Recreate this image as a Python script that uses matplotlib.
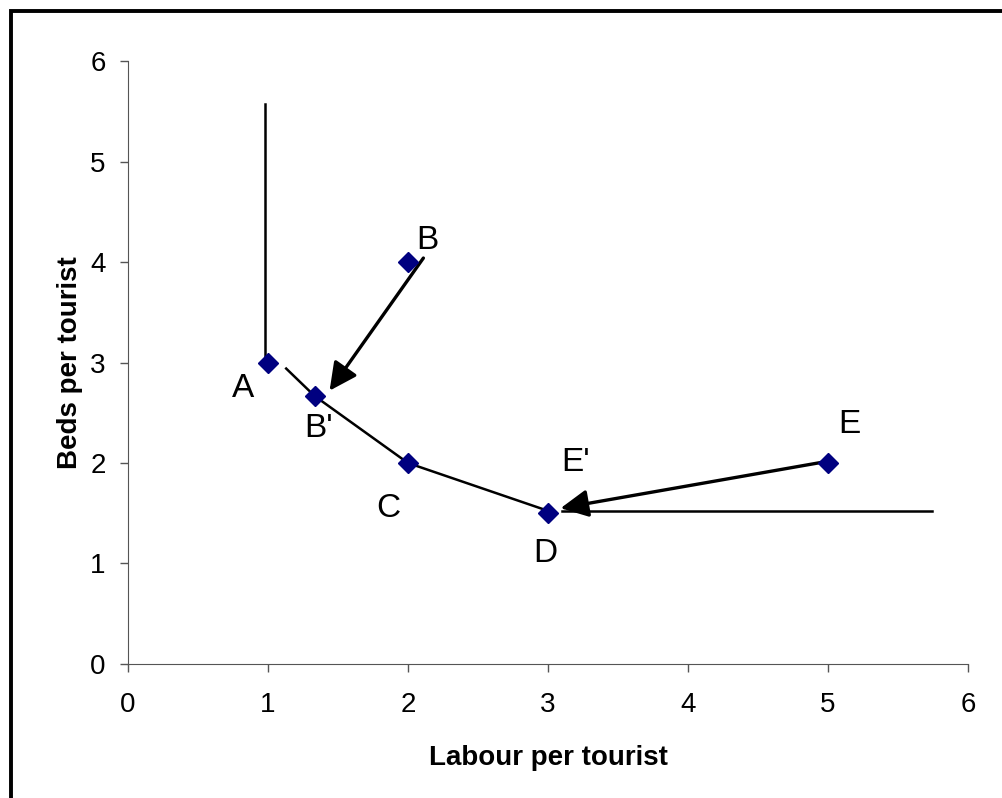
"""Isoquant sketch: beds vs labour per tourist, with shifts B->B' and E->E'."""
import matplotlib
matplotlib.use("Agg")
import matplotlib.pyplot as plt
from matplotlib.patches import Rectangle

plt.rcParams["font.family"] = ["Liberation Sans", "DejaVu Sans"]

# observed points
pt_x = [1, 2, 1.333, 2, 3, 5]
pt_y = [3, 4, 2.667, 2, 1.5, 2]

# point labels and where they sit
lab_text = ["A", "B", "B'", "C", "D", "E'", "E"]
lab_x = [0.82, 2.14, 1.36, 1.86, 2.98, 3.2, 5.15]
lab_y = [2.74, 4.21, 2.34, 1.55, 1.1, 2.0, 2.38]

# isoquant pieces
vert_x = [0.98, 0.98]
vert_y = [5.57, 3.04]
curve_x = [1.13, 1.333, 2, 3.05]
curve_y = [2.94, 2.667, 2, 1.5]
horiz_x = [3.1, 5.74]
horiz_y = [1.52, 1.52]

# arrows: (start, end)
arrows = [((2.11, 4.04), (1.44, 2.72)),
          ((5.01, 2.02), (3.09, 1.55))]


def main():
    fig = plt.figure(figsize=(10.03, 7.98), dpi=100)
    ax = fig.add_axes([0.1276, 0.168, 0.8375, 0.7554])

    ax.plot(vert_x, vert_y, color="black", lw=1.8)
    ax.plot(curve_x, curve_y, color="black", lw=1.8)
    ax.plot(horiz_x, horiz_y, color="black", lw=1.8)
    for (x0, y0), (x1, y1) in arrows:
        ax.annotate("", xy=(x1, y1), xytext=(x0, y0),
                    arrowprops=dict(arrowstyle="-|>", color="black", lw=2.4,
                                    mutation_scale=42, shrinkA=0, shrinkB=0))
    ax.plot(pt_x, pt_y, ls="none", marker="D", ms=10, color="#000080", zorder=3)
    for t, x, y in zip(lab_text, lab_x, lab_y):
        ax.text(x, y, t, fontsize=24, ha="center", va="center")

    ax.set_xlim(0, 6); ax.set_ylim(0, 6)
    ax.set_xticks(range(7)); ax.set_yticks(range(7))
    ax.tick_params(labelsize=20, direction="out", length=6, width=1, colors="#555555",
                   labelcolor="black")
    ax.tick_params(axis="x", pad=14)
    ax.tick_params(axis="y", pad=10)
    for s in ("top", "right"):
        ax.spines[s].set_visible(False)
    for s in ("left", "bottom"):
        ax.spines[s].set_color("#555555")
    ax.set_xlabel("Labour per tourist", fontsize=20, fontweight="bold", labelpad=20)
    ax.set_ylabel("Beds per tourist", fontsize=20, fontweight="bold", labelpad=5)

    fig.patches.append(Rectangle((11 / 1003, -0.1), 1.2, 1.1 - 11 / 798,
                                 transform=fig.transFigure, fill=False,
                                 ec="black", lw=2.8))
    fig.savefig("out.png", dpi=100)


if __name__ == "__main__":
    main()
